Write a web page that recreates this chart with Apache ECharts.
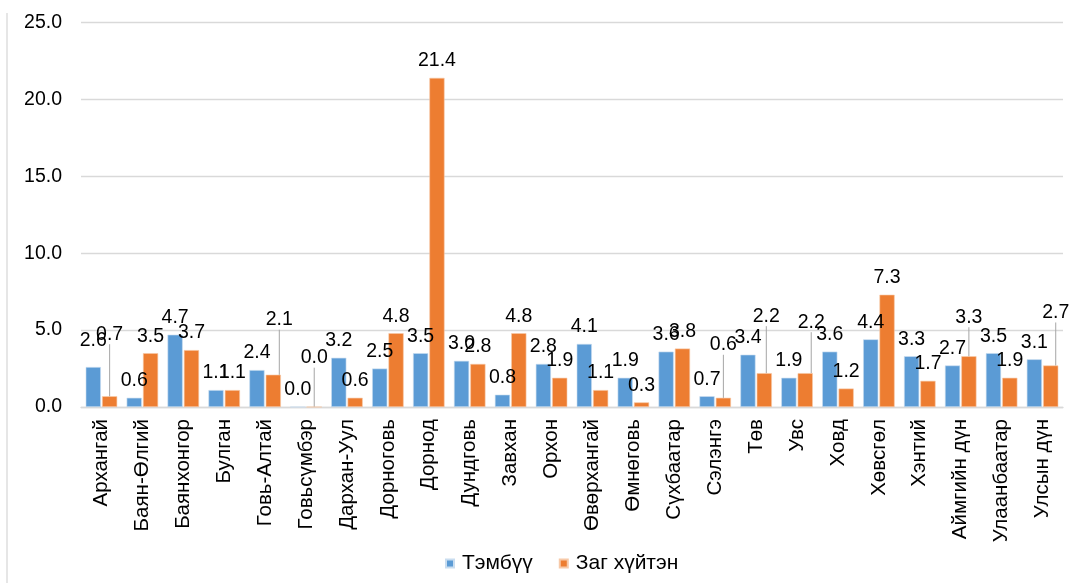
<!DOCTYPE html>
<html>
<head>
<meta charset="utf-8">
<script src="https://cdn.jsdelivr.net/npm/echarts@6/dist/echarts.min.js"></script>
<style>
html,body{margin:0;padding:0;background:#fff;}
#chart{width:1075px;height:583px;}
</style>
</head>
<body>
<div id="chart"></div>
<script>
const categories = ["Архангай","Баян-Өлгий","Баянхонгор","Булган","Говь-Алтай","Говьсүмбэр","Дархан-Уул","Дорноговь","Дорнод","Дундговь","Завхан","Орхон","Өвөрхангай","Өмнөговь","Сүхбаатар","Сэлэнгэ","Төв","Увс","Ховд","Хөвсгөл","Хэнтий","Аймгийн дүн","Улаанбаатар","Улсын дүн"];
const tembuu = [2.6,0.6,4.7,1.1,2.4,0.0,3.2,2.5,3.5,3.0,0.8,2.8,4.1,1.9,3.6,0.7,3.4,1.9,3.6,4.4,3.3,2.7,3.5,3.1];
const zagKhuiten = [0.7,3.5,3.7,1.1,2.1,0.0,0.6,4.8,21.4,2.8,4.8,1.9,1.1,0.3,3.8,0.6,2.2,2.2,1.2,7.3,1.7,3.3,1.9,2.7];
const seriesNames = ["Тэмбүү","Заг хүйтэн"];
const yTicks = {min:0, max:25, interval:5};

// label displacement (style only): [seriesIndex][dataIndex] -> [dx, dy, leaderLine]
const labelMoves = {
  0: {0:[0,-9,false]},
  1: {0:[0,-45,true],4:[6,-38,true],5:[0,-32,true],15:[0,-36,true],16:[2,-40,true],17:[6,-34,true],21:[0,-22,true],23:[5,-36,true]}
};

function buildData(vals, si){
  return vals.map((v,i)=>{
    const m = labelMoves[si][i];
    if (m && m[2]) return {value:v, labelLine:{show:true, lineStyle:{color:'#A6A6A6', width:1}}};
    return v;
  });
}

const chart = echarts.init(document.getElementById('chart'));
const FONT = '"Liberation Sans", Arial, sans-serif';
const labelCfg = {show:true, position:'top', distance:7, color:'#000', fontSize:19.5, fontFamily:FONT,
  formatter: p => Number(p.value).toFixed(1)};
function layoutFor(si){
  return function(params){
    const m = labelMoves[si][params.dataIndex];
    if (m) return {dx:m[0], dy:m[1]};
    return {};
  };
}
chart.setOption({
  animation:false,
  backgroundColor:'#fff',
  grid:{left:81, right:12, top:22.5, bottom:176, containLabel:false},
  legend:{
    data:seriesNames, bottom:4, left:440, itemWidth:8, itemHeight:8, itemGap:26, icon:'rect',
    textStyle:{color:'#000', fontSize:21, fontFamily:FONT, padding:[0,0,0,3]}
  },
  xAxis:{
    type:'category', data:categories,
    axisLine:{lineStyle:{color:'#D9D9D9', width:1.3}},
    axisTick:{show:false},
    axisLabel:{rotate:90, interval:0, color:'#000', fontSize:20.5, fontFamily:FONT, margin:12}
  },
  yAxis:{
    type:'value', min:yTicks.min, max:yTicks.max, interval:yTicks.interval,
    axisLine:{show:false}, axisTick:{show:false},
    splitLine:{lineStyle:{color:'#D9D9D9', width:1.3}},
    axisLabel:{color:'#000', fontSize:19.5, fontFamily:FONT, margin:19, formatter: v => v.toFixed(1)}
  },
  series:[
    {name:seriesNames[0], type:'bar', data:buildData(tembuu,0), barGap:'8%', barCategoryGap:'23%',
     itemStyle:{color:'#5B9BD5', borderColor:'#C9DDF0', borderWidth:0.6},
     label:labelCfg, labelLayout:layoutFor(0)},
    {name:seriesNames[1], type:'bar', data:buildData(zagKhuiten,1), barGap:'8%', barCategoryGap:'23%',
     itemStyle:{color:'#ED7D31', borderColor:'#F7C9A8', borderWidth:0.6},
     label:labelCfg, labelLayout:layoutFor(1)}
  ],
  graphic:[{type:'line', shape:{x1:7, y1:13, x2:7, y2:583}, style:{stroke:'#D9D9D9', lineWidth:1.3}}]
});
</script>
</body>
</html>
